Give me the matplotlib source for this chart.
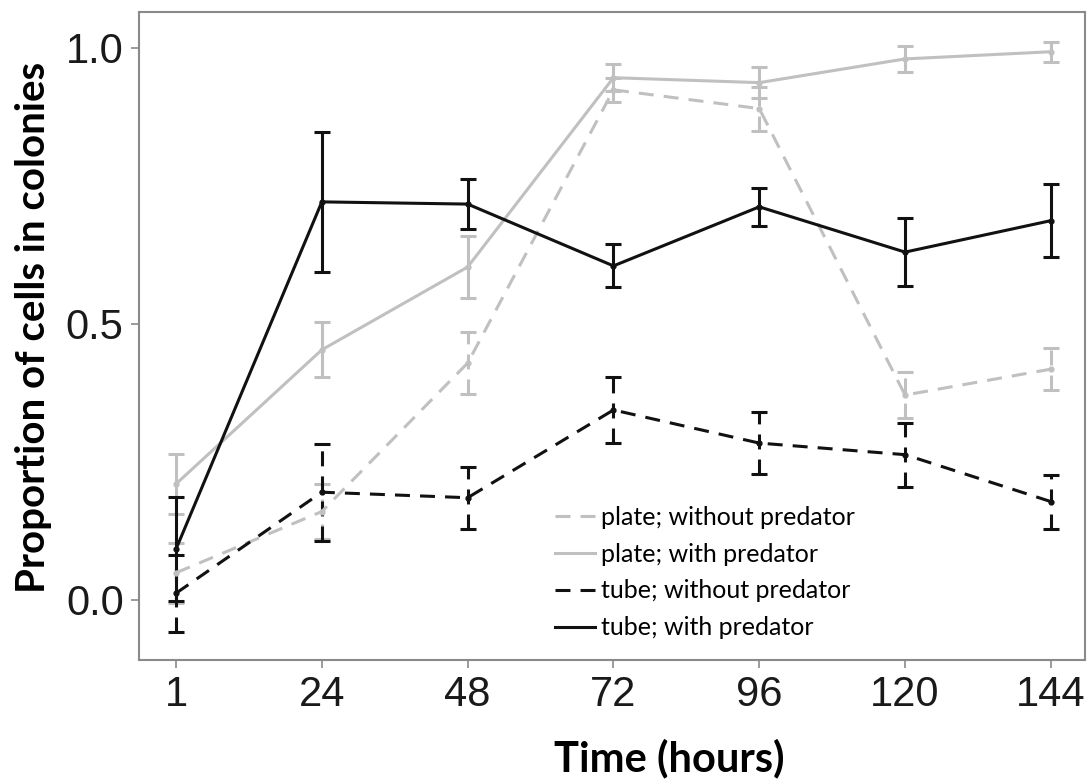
import matplotlib
matplotlib.use("Agg")
import matplotlib.pyplot as plt
from matplotlib import font_manager
import numpy as np

times = ["1", "24", "48", "72", "96", "120", "144"]

plate_without = [0.049, 0.160, 0.429, 0.924, 0.890, 0.371, 0.418]
plate_without_err = [0.054, 0.050, 0.056, 0.022, 0.040, 0.042, 0.038]

plate_with = [0.210, 0.453, 0.603, 0.946, 0.937, 0.980, 0.993]
plate_with_err = [0.055, 0.050, 0.056, 0.025, 0.028, 0.023, 0.018]

tube_without = [0.012, 0.195, 0.185, 0.344, 0.284, 0.263, 0.178]
tube_without_err = [0.070, 0.088, 0.056, 0.060, 0.056, 0.058, 0.049]

tube_with = [0.092, 0.721, 0.717, 0.605, 0.712, 0.630, 0.687]
tube_with_err = [0.094, 0.127, 0.046, 0.039, 0.034, 0.062, 0.066]

labels = ["plate; without predator", "plate; with predator",
          "tube; without predator", "tube; with predator"]

GREY = "#c0c0c0"
BLACK = "#111111"

try:
    font_manager.findfont("Liberation Sans Narrow", fallback_to_default=False)
    TICKFONT, TICKSIZE = "Liberation Sans Narrow", 34
except Exception:
    TICKFONT, TICKSIZE = "Liberation Sans", 30

fig = plt.figure(figsize=(10.91, 7.82), dpi=100)
ax = fig.add_axes([139/1091, 1 - 660/782, (1085-139)/1091, (660-12)/782])

x = np.arange(len(times))
series = [
    (plate_without, plate_without_err, GREY, (0, (4.9, 3.3)), 2.2),
    (plate_with, plate_with_err, GREY, "-", 2.2),
    (tube_without, tube_without_err, BLACK, (0, (4.9, 3.3)), 2.2),
    (tube_with, tube_with_err, BLACK, "-", 2.2),
]
handles = []
for (vals, errs, col, ls, lw), lab in zip(series, labels):
    eb = ax.errorbar(x, vals, yerr=errs, color=col, linestyle=ls, linewidth=lw,
                     elinewidth=lw, capsize=5.5, capthick=lw,
                     marker="o", markersize=3.5, label=lab)
    for lc in eb[2]:
        lc.set_linestyle(ls)
    h, = ax.plot([], [], color=col, linestyle=ls, linewidth=lw)
    handles.append(h)

ax.set_xlim(-0.254, 6.234)
ax.set_ylim(-0.109, 1.065)
ax.set_xticks(x)
ax.set_xticklabels(times)
ax.set_yticks([0.0, 0.5, 1.0])
ax.set_yticklabels(["0.0", "0.5", "1.0"])

for sp in ax.spines.values():
    sp.set_color("#8a8a8a")
    sp.set_linewidth(1.5)
ax.tick_params(axis="both", colors="#8a8a8a", length=6, width=1.2,
               labelcolor="#1a1a1a", labelsize=TICKSIZE)
for t in ax.get_xticklabels() + ax.get_yticklabels():
    t.set_fontfamily(TICKFONT)
ax.tick_params(axis="x", pad=5)
ax.tick_params(axis="y", pad=5)

ax.set_xlabel("Time (hours)", fontsize=30, fontweight="bold",
              fontfamily="Lato", labelpad=17, color="black")
ax.xaxis.label.set_x((669-139)/946)
ax.set_ylabel("Proportion of cells in colonies", fontsize=29,
              fontweight="bold", fontfamily="Lato", labelpad=10, color="black")
ax.yaxis.label.set_y((660-327)/648)

leg = ax.legend(handles, labels, loc="upper left",
                bbox_to_anchor=((555-139)/946, (660-506)/648),
                frameon=False, prop={"family": "Lato", "size": 18},
                handlelength=1.6, handletextpad=0.25, labelspacing=0.55,
                borderpad=0, borderaxespad=0)

fig.savefig("out.png", dpi=100)
